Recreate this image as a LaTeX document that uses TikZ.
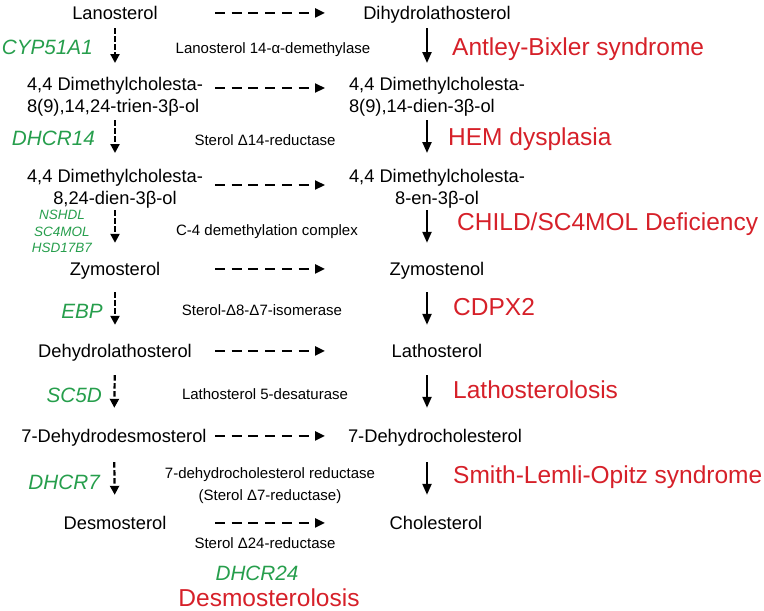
\documentclass[tikz,border=0pt]{standalone}
\usepackage{fontspec}
\setmainfont{Liberation Sans}
\usetikzlibrary{arrows.meta,calc}
\definecolor{genegreen}{RGB}{38,158,76}
\definecolor{diseasered}{RGB}{214,32,41}

\begin{document}
\begin{tikzpicture}[x=1pt, y=-1pt,
	compound/.style={inner sep=0pt, font=\fontsize{18.3pt}{22pt}\selectfont},
	single/.style={compound, anchor=base, text height=13.3pt, text depth=0pt},
	double/.style={compound, anchor=north},
	enzyme/.style={inner sep=0pt, anchor=base, font=\fontsize{15pt}{22pt}\selectfont},
	gene/.style={inner sep=0pt, anchor=base east, text=genegreen, font=\fontsize{20.7pt}{24pt}\selectfont\itshape},
	disease/.style={inner sep=0pt, anchor=base west, text=diseasered, font=\fontsize{24.5pt}{29pt}\selectfont},
	dasharrow/.style={line width=2.2pt, dash pattern=on 10pt off 6.7pt, -{Triangle[length=10pt,width=9pt]}},
	stepdash/.style={line width=2.2pt, dash pattern=on 5.5pt off 2.5pt, -{Triangle[length=9pt,width=9pt]}},
	stepsolid/.style={line width=2.2pt, -{Triangle[length=11pt,width=9pt]}}]
	\useasboundingbox (0,0) rectangle (764,611);
	
	% compounds, left and right column
	\node[single] (lan) at (115,19.6) {Lanosterol};
	\node[single] (dih) at (437,19.6) {Dihydrolathosterol};
	\node[double, align=left] (dmc1) at (115,77.3) {4,4 Dimethylcholesta-\\8(9),14,24-trien-3β-ol};
	\node[double, align=left] (dmr1) at (437,77.3) {4,4 Dimethylcholesta-\\8(9),14-dien-3β-ol};
	\node[double, align=center] (dmc2) at (115,169.3) {4,4 Dimethylcholesta-\\8,24-dien-3β-ol};
	\node[double, align=center] (dmr2) at (437,169.3) {4,4 Dimethylcholesta-\\8-en-3β-ol};
	\node[single] (zym) at (115,275.6) {Zymosterol};
	\node[single] (zyn) at (437,275.6) {Zymostenol};
	\node[single] (dehl) at (115,357.6) {Dehydrolathosterol};
	\node[single] (lath) at (437,357.6) {Lathosterol};
	\node[single] (dhd) at (114,442.6) {7-Dehydrodesmosterol};
	\node[single] (dhc) at (435,442.6) {7-Dehydrocholesterol};
	\node[single] (des) at (115,529.6) {Desmosterol};
	\node[single] (chol) at (436,529.6) {Cholesterol};
	
	% enzymes
	\node[enzyme] (e1) at (273,53.4) {Lanosterol 14-α-demethylase};
	\node[enzyme] (e2) at (265,145.4) {Sterol Δ14-reductase};
	\node[enzyme] (e3) at (267,235.4) {C-4 demethylation complex};
	\node[enzyme] (e4) at (262,315.4) {Sterol-Δ8-Δ7-isomerase};
	\node[enzyme] (e5) at (265,399.4) {Lathosterol 5-desaturase};
	\node[enzyme, anchor=north, align=center] (e6) at (270,467.5) {7-dehydrocholesterol reductase\\(Sterol Δ7-reductase)};
	\node[enzyme] (e7) at (265,548.4) {Sterol Δ24-reductase};
	
	% genes
	\node[gene] (g1) at (93,54.4) {CYP51A1};
	\node[gene] (g2) at (95,145.4) {DHCR14};
	\node[inner sep=0pt, anchor=north, align=center, text=genegreen, font=\fontsize{13.5pt}{16.5pt}\selectfont\itshape] (g3) at (62,210) {NSHDL\\SC4MOL\\HSD17B7};
	\node[gene] (g4) at (103,318.4) {EBP};
	\node[gene] (g5) at (102,402.4) {SC5D};
	\node[gene] (g6) at (100,489.4) {DHCR7};
	\node[gene, anchor=base] (g7) at (257,580.4) {DHCR24};
	
	% diseases
	\node[disease] (d1) at (452,55.8) {Antley-Bixler syndrome};
	\node[disease] (d2) at (448,145.8) {HEM dysplasia};
	\node[disease] (d3) at (457,230.8) {CHILD/SC4MOL Deficiency};
	\node[disease] (d4) at (453,315.8) {CDPX2};
	\node[disease] (d5) at (453,398.8) {Lathosterolosis};
	\node[disease] (d6) at (453,483.8) {Smith-Lemli-Opitz syndrome};
	\node[disease, anchor=base] (d7) at (269,606.5) {Desmosterolosis};
	
	% horizontal (dashed) arrows
	\coordinate (hl) at (215,0);
	\coordinate (hr) at (325,0);
	\draw[dasharrow] (lan -| hl) -- (dih -| hr);
	\draw[dasharrow] ($(dmc1.north -| hl)+(0,10.7)$) -- ($(dmr1.north -| hr)+(0,10.7)$);
	\draw[dasharrow] ($(dmc2.north -| hl)+(0,15.7)$) -- ($(dmr2.north -| hr)+(0,15.7)$);
	\draw[dasharrow] (zym -| hl) -- (zyn -| hr);
	\draw[dasharrow] (dehl -| hl) -- (lath -| hr);
	\draw[dasharrow] (dhd -| hl) -- (dhc -| hr);
	\draw[dasharrow] (des -| hl) -- (chol -| hr);
	
	% left column
	\draw[stepdash, shorten <=8.4pt, shorten >=14.3pt] (lan.south) -- (dmc1.north);
	\draw[stepdash, shorten <=3.5pt, shorten >=16.3pt] (dmc1.south) -- (dmc2.north);
	\draw[stepdash, shorten <=1.5pt, shorten >=19.3pt] (dmc2.south) -- (zym.north);
	\draw[stepdash, shorten <=16.4pt, shorten >=19.3pt] (zym.south) -- (dehl.north);
	\draw[stepdash, shorten <=17.4pt, shorten >=21.3pt] (dehl.south) -- (dhd.north);
	\draw[stepdash, shorten <=19.4pt, shorten >=21.3pt] (dhd.south) -- (des.north);
	
	% right column
	\draw[stepsolid, shorten <=8.4pt, shorten >=14.3pt] ([xshift=-10pt]dih.south) -- ([xshift=-10pt]dmr1.north);
	\draw[stepsolid, shorten <=3.5pt, shorten >=16.3pt] ([xshift=-10pt]dmr1.south) -- ([xshift=-10pt]dmr2.north);
	\draw[stepsolid, shorten <=1.5pt, shorten >=19.3pt] ([xshift=-10pt]dmr2.south) -- ([xshift=-10pt]zyn.north);
	\draw[stepsolid, shorten <=16.4pt, shorten >=19.3pt] ([xshift=-10pt]zyn.south) -- ([xshift=-10pt]lath.north);
	\draw[stepsolid, shorten <=17.4pt, shorten >=21.3pt] ([xshift=-10pt]lath.south) -- ([xshift=-8pt]dhc.north);
	\draw[stepsolid, shorten <=19.4pt, shorten >=21.3pt] ([xshift=-8pt]dhc.south) -- ([xshift=-9pt]chol.north);
\end{tikzpicture}
\end{document}
